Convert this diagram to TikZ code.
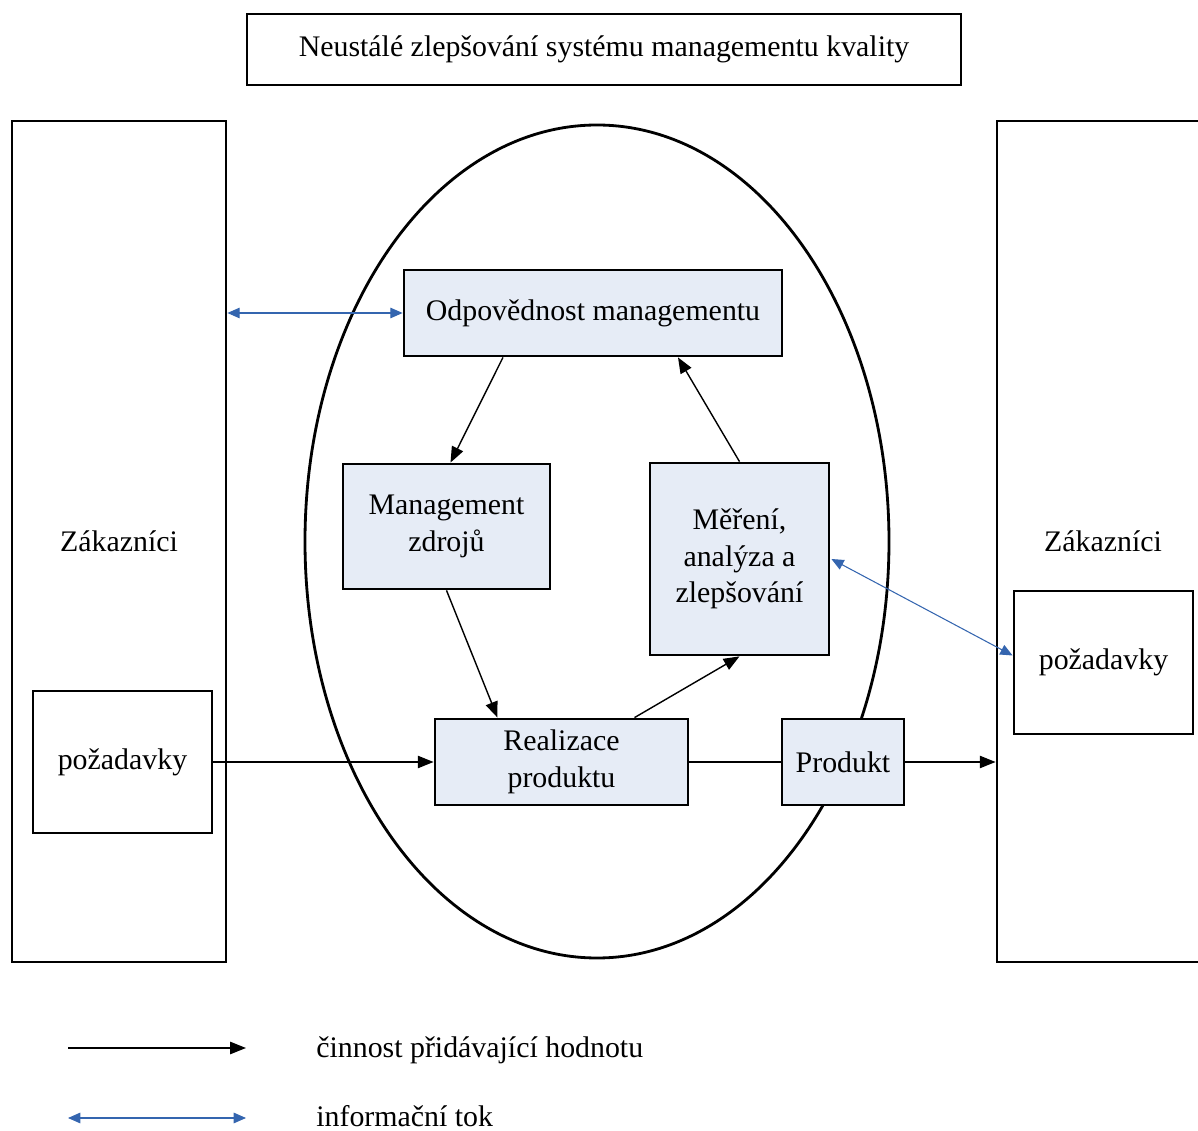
\documentclass[tikz,border=0pt]{standalone}
\usepackage{fontspec}
\setmainfont{Liberation Serif}
\usepackage{xcolor}
\usetikzlibrary{calc}
\usetikzlibrary{positioning}
\usetikzlibrary{arrows.meta}

\definecolor{boxfill}{HTML}{E6ECF6}
\definecolor{infoblue}{HTML}{3465AF}

\tikzset{
  krok/.style={draw,line width=1.6pt,fill=boxfill,inner sep=0pt,align=center},
  ramec/.style={draw,line width=1.6pt,inner sep=0pt,align=center},
  cinnost/.style={line width=0.8pt,-{Triangle[length=9pt,width=7pt]}},
  info/.style={infoblue,line width=0.6pt,{Triangle[length=7pt,width=6pt]}-{Triangle[length=7pt,width=6pt]}},
}

\begin{document}
\begin{tikzpicture}[x=0.02cm,y=-0.02cm,font=\fontsize{17}{20.7}\selectfont]
\path[use as bounding box,clip] (0,0) rectangle (1198,1131);

% title
\node[ramec,minimum width=14.28cm,minimum height=1.42cm] (nadpis) at (604,49.5)
  {Neustálé zlepšování systému managementu kvality};

% customers on both sides
\node[ramec,minimum width=4.28cm,minimum height=16.82cm] (zl) at (119,541.5) {Zákazníci};
\node[ramec,minimum width=3.58cm,minimum height=2.84cm] (pl) at (122.5,762) {požadavky};
\node[ramec,minimum width=4.24cm,minimum height=16.82cm] (zp) at (1103,541.5) {Zákazníci};
\node[ramec,minimum width=3.58cm,minimum height=2.86cm] (pr) at (1103.5,662.5) {požadavky};

\draw[line width=1.6pt] (597,541.5) ellipse [x radius=292,y radius=416.5];

% process
\node[krok,minimum width=7.56cm,minimum height=1.72cm] (odp) at (593,313) {Odpovědnost managementu};
\node[krok,minimum width=4.14cm,minimum height=2.5cm] (mz) at (446.5,526.5) {Management\\zdrojů};
\node[krok,minimum width=3.58cm,minimum height=3.84cm] (mer) at (739.5,559) {Měření,\\analýza a\\zlepšování};
\node[krok,minimum width=5.06cm,minimum height=1.72cm] (real) at (561.5,762) {Realizace\\produktu};
\node[krok,minimum width=2.44cm,minimum height=1.72cm] (prod) at (843,762) {Produkt};

\draw[cinnost] ($(odp.south)+(-90,0)$) -- ($(mz.north)+(4,0)$);
\draw[cinnost] (mz.south) -- ($(real.north)+(-64,0)$);
\draw[cinnost] ($(real.north)+(73,0)$) -- (mer.south);
\draw[cinnost] (mer.north) -- ($(odp.south)+(85,0)$);
\draw[cinnost] (pl.east) -- (real.west);
\draw[line width=0.8pt] (real.east) -- (prod.west);
\draw[cinnost] (prod.east) -- (zp.west |- prod.east);

\draw[info] (odp.west -| zl.east) -- (odp.west);
\draw[info] ($(mer.east)+(1,0)$) -- ($(pr.west)+(0,-7)$);

% legend
\coordinate (c1) at (68,1048);
\coordinate (c2) at (246,1048);
\coordinate (i1) at (68,1118);
\coordinate (i2) at (246,1118);
\draw[cinnost] (c1) -- (c2);
\draw[info] (i1) -- (i2);
\node[anchor=west,inner sep=0pt] (lc) at (316,1050) {činnost přidávající hodnotu};
\node[anchor=west,inner sep=0pt] (li) at (316,1116) {informační tok};
\end{tikzpicture}
\end{document}
